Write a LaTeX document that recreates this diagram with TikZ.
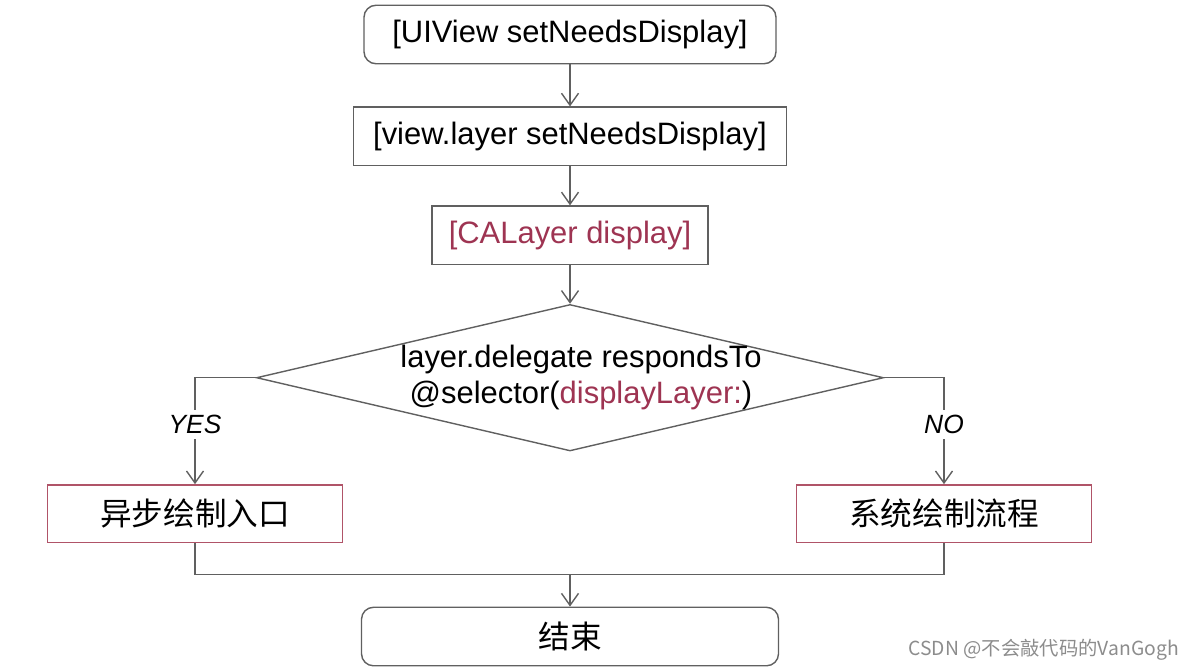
\documentclass[tikz,border=0pt]{standalone}
\usepackage{fontspec}
\setmainfont{Liberation Sans}
\newfontfamily\cjk{Noto Sans CJK SC}
\usepackage{tikz}
\usetikzlibrary{positioning, arrows.meta, shapes.geometric}
\tikzset{>={Straight Barb[length=2.4mm, width=3.4mm]}}
\definecolor{codered}{RGB}{158,52,82}
\definecolor{edgered}{RGB}{176,84,104}
\definecolor{linegray}{RGB}{96,96,96}
\definecolor{markgray}{RGB}{140,140,140}

\begin{document}
\begin{tikzpicture}
    [font=\fontsize{17.6}{21.6}\selectfont,
     box/.style={draw=linegray, line width=0.8pt, inner sep=0pt, minimum height=1.17cm},
     roundbox/.style={box, rounded corners=0.24cm},
     redbox/.style={box, draw=edgered, font=\cjk\fontsize{18}{22}\selectfont, minimum width=5.9cm, minimum height=1.15cm},
     decision/.style={draw=linegray, line width=0.8pt, diamond, minimum width=12.54cm, minimum height=2.93cm, inner sep=0pt},
     line/.style={draw=linegray, line width=0.8pt},
     answer/.style={fill=white, inner sep=3pt, font=\fontsize{15}{18}\selectfont\itshape}]

    \useasboundingbox (0,0) rectangle (24,-13.4);

    \node[roundbox, minimum width=8.24cm] (uiview) at (11.4,-0.69) {[UIView setNeedsDisplay]};
    \node[box, minimum width=8.66cm, below=0.84cm of uiview] (viewlayer) {[view.layer setNeedsDisplay]};
    \node[box, minimum width=5.52cm, text=codered, below=0.78cm of viewlayer] (calayer) {[CALayer display]};
    \node[decision, below=0.77cm of calayer] (cond) {};
    \node[align=center, font=\fontsize{17.6}{20.4}\selectfont, xshift=0.22cm] (condtext) at (cond) {layer.delegate respondsTo \\ @selector(\textcolor{codered}{displayLayer:})};

    \node[redbox, below=0.65cm of cond.south, xshift=-7.5cm] (async) {异步绘制入口};
    \node[redbox, below=0.65cm of cond.south, xshift=7.48cm] (system) {系统绘制流程};

    \node[roundbox, minimum width=8.34cm, font=\cjk\fontsize{18}{22}\selectfont, below=1.27cm] (finish) at (async.south -| cond.south) {结束};
    \coordinate[below=0.63cm of async.south] (join);

    \node[anchor=east, text=markgray, font=\cjk\fontsize{11}{13}\selectfont] (mark) at (23.7,-13.0) {CSDN @不会敲代码的VanGogh};

    \draw[line, ->] (uiview) -- (viewlayer);
    \draw[line, ->] (viewlayer) -- (calayer);
    \draw[line, ->] (calayer) -- (cond);
    \draw[line, ->] (cond.west) -| node[answer, pos=0.72] {YES} (async);
    \draw[line, ->] (cond.east) -| node[answer, pos=0.72] {NO} (system);
    \draw[line] (async) -- (join) -| (system);
    \draw[line, ->] (join -| finish.north) -- (finish);
\end{tikzpicture}
\end{document}
